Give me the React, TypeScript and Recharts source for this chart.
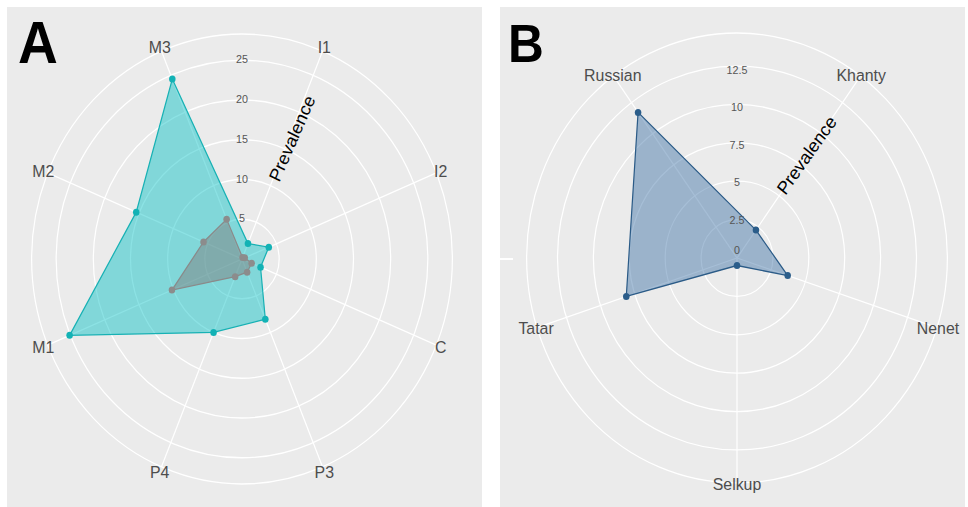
import React from 'react';
import { RadarChart, Radar, PolarGrid, PolarAngleAxis, PolarRadiusAxis } from 'recharts';

// panel A: prevalence by region
const regionsA = ['I1', 'I2', 'C', 'P3', 'P4', 'M1', 'M2', 'M3'];
const totalA = [2.1, 3.9, 2.7, 8.2, 10.0, 25.1, 15.4, 24.5];
const subsetA = [0.2, 0.4, 1.4, 1.8, 2.4, 10.2, 5.6, 5.4];
const ticksA = [5, 10, 15, 20, 25];
const maxA = 28.3;

// panel B: prevalence by ethnic group
const groupsB = ['Khanty', 'Nenet', 'Selkup', 'Tatar', 'Russian'];
const totalB = [2.3, 3.8, 0.5, 8.3, 12.0];
const ticksB = [0, 2.5, 5, 7.5, 10, 12.5];
const maxB = 14.65;

// the reference image is squashed horizontally
const SQ = 0.935;
const OUTER = 225;
const PANEL_BG = '#EBEBEB';
const FONT = '"Liberation Sans", Arial, sans-serif';

const dataA = regionsA.map((name, i) => ({ name, total: totalA[i], subset: subsetA[i] }));
const dataB = groupsB.map((name, i) => ({ name, total: totalB[i] }));

const AngleTick = (props: any) => {
  const { x, y, payload } = props;
  return (
    <text x={x} y={y} textAnchor="middle" dominantBaseline="central" fontSize={17} fill="#4d4d4d" fontFamily={FONT}>
      {payload.value}
    </text>
  );
};

const makeRadiusTick = (lift: (v: number) => number) => (props: any) => {
  const { x, y, payload } = props;
  return (
    <text x={x} y={y - lift(payload.value)} textAnchor="middle" dominantBaseline="central" fontSize={11.5} fill="#555555" fontFamily={FONT}>
      {payload.value}
    </text>
  );
};

type PanelProps = {
  left: number;
  width: number;
  cx: number;
  cy: number;
  letter: string;
  letterSize: number;
  letterX: number;
  labelR: number;
  labelAngle: number;
  labelRot: number;
  children: React.ReactNode;
};

const Panel = ({ left, width, cx, cy, letter, letterSize, letterX, labelR, labelAngle, labelRot, children }: PanelProps) => {
  const w = width / SQ;
  const ux = (cx - left) / SQ;
  const rad = (labelAngle * Math.PI) / 180;
  const px = ux + labelR * Math.sin(rad);
  const py = cy - labelR * Math.cos(rad);
  return (
    <div style={{ position: 'absolute', left, top: 7, width, height: 500, background: PANEL_BG, overflow: 'hidden' }}>
      <div style={{ position: 'absolute', left: 0, top: -7, width: w, height: 507, transform: `scaleX(${SQ})`, transformOrigin: '0 0' }}>
        {React.Children.map(children, (child: any) =>
          React.cloneElement(child, { cx: ux, cy, width: w, height: 507 })
        )}
        <svg width={w} height={507} style={{ position: 'absolute', left: 0, top: 0 }}>
          <text x={letterX} y={letter === 'A' ? 63 : 62} fontSize={letterSize} fontWeight="bold" fill="#000" fontFamily={FONT}>
            {letter}
          </text>
          <text
            x={px}
            y={py}
            textAnchor="middle"
            dominantBaseline="central"
            fontSize={18.5}
            fill="#000"
            fontFamily={FONT}
            transform={`rotate(${labelRot} ${px} ${py})`}
          >
            Prevalence
          </text>
        </svg>
      </div>
    </div>
  );
};

export default function App() {
  const ringsA = [...ticksA, maxA].map((v) => (v / maxA) * OUTER);
  const ringsB = [...ticksB, maxB].map((v) => (v / maxB) * OUTER);

  return (
    <div style={{ position: 'absolute', left: 0, top: 0, width: 968, height: 507, background: '#fff', overflow: 'hidden' }}>
      <Panel left={7} width={475} cx={242} cy={259} letter="A" letterSize={59} letterX={11.8} labelR={132} labelAngle={24} labelRot={-65}>
        <RadarChart
          data={dataA}
          outerRadius={OUTER}
          startAngle={67.5}
          endAngle={-292.5}
          margin={{ top: 0, right: 0, bottom: 0, left: 0 }}
        >
          <PolarGrid gridType="circle" stroke="#ffffff" strokeWidth={1.3} polarRadius={ringsA} />
          <PolarAngleAxis dataKey="name" tick={AngleTick} tickLine={false} axisLine={false} tickSize={5} />
          <PolarRadiusAxis
            angle={90}
            type="number"
            domain={[0, maxA]}
            ticks={ticksA}
            axisLine={false}
            tickLine={false}
            tick={makeRadiusTick(() => 1)}
          />
          <Radar
            dataKey="total"
            stroke="#17b1b4"
            strokeWidth={1.3}
            fill="#00BFC4"
            fillOpacity={0.45}
            dot={{ r: 3.5, fill: '#13b2b5', fillOpacity: 1, stroke: 'none' }}
            isAnimationActive={false}
          />
          <Radar
            dataKey="subset"
            stroke="#8a8a8a"
            strokeWidth={1.3}
            fill="#808080"
            fillOpacity={0.5}
            dot={{ r: 3.5, fill: '#8c8c8c', fillOpacity: 1, stroke: 'none' }}
            isAnimationActive={false}
          />
        </RadarChart>
      </Panel>

      <Panel left={500} width={465} cx={737} cy={258} letter="B" letterSize={53} letterX={8.5} labelR={127} labelAngle={36} labelRot={-53}>
        <RadarChart
          data={dataB}
          outerRadius={OUTER}
          startAngle={54}
          endAngle={-306}
          margin={{ top: 0, right: 0, bottom: 0, left: 0 }}
        >
          <PolarGrid gridType="circle" stroke="#ffffff" strokeWidth={1.3} polarRadius={ringsB} />
          <PolarAngleAxis dataKey="name" tick={AngleTick} tickLine={false} axisLine={false} tickSize={1} />
          <PolarRadiusAxis
            angle={90}
            type="number"
            domain={[0, maxB]}
            ticks={ticksB}
            axisLine={false}
            tickLine={false}
            tick={makeRadiusTick((v) => (v === 0 ? 8 : 1))}
          />
          <Radar
            dataKey="total"
            stroke="#2b5b87"
            strokeWidth={1.3}
            fill="#3a6ea5"
            fillOpacity={0.45}
            dot={{ r: 3.5, fill: '#2b5d8a', fillOpacity: 1, stroke: 'none' }}
            isAnimationActive={false}
          />
        </RadarChart>
      </Panel>

      <div style={{ position: 'absolute', left: 500, top: 258, width: 13, height: 2, background: '#fff' }} />
    </div>
  );
}
